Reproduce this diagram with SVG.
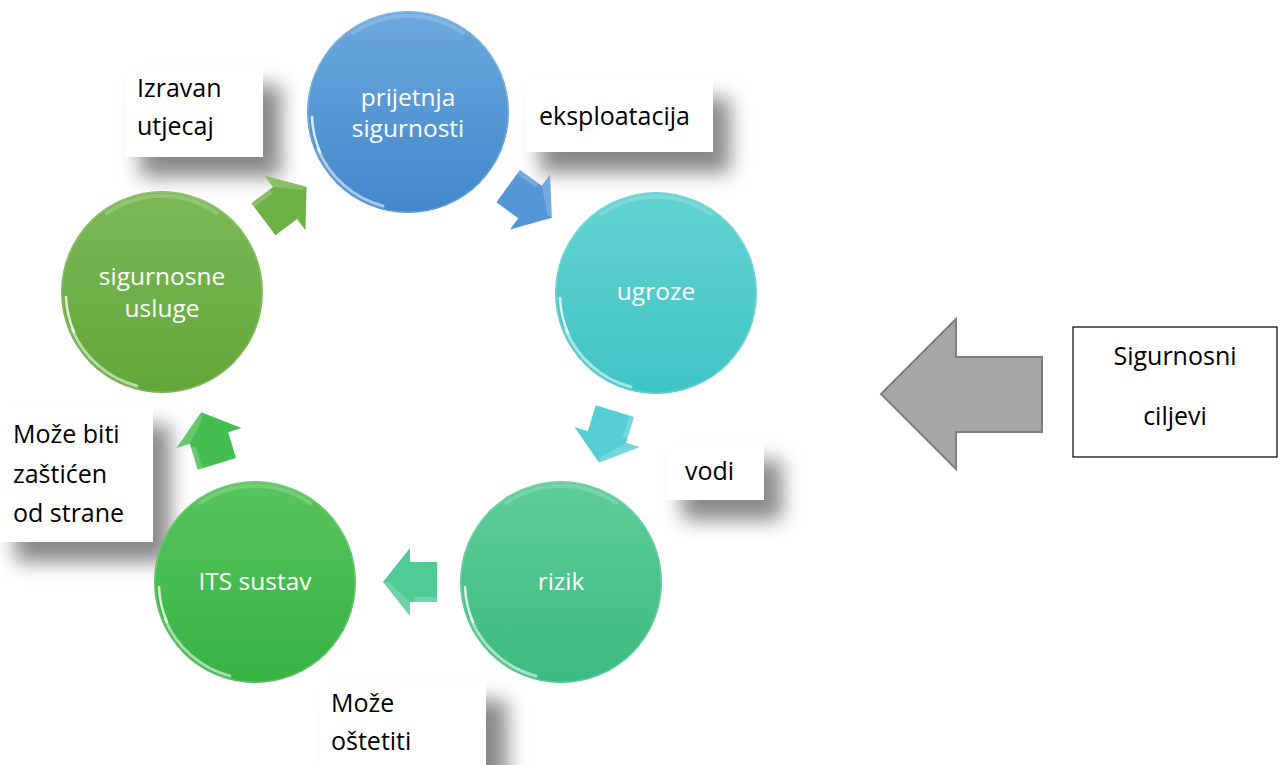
<svg xmlns="http://www.w3.org/2000/svg" width="1279" height="765" viewBox="0 0 1279 765">
<style>
.ctext{font-family:"Open Sans","Liberation Sans",sans-serif;font-size:24.5px;fill:#ffffff;text-anchor:middle}
.ltext{font-family:"Open Sans","Liberation Sans",sans-serif;font-size:25px;fill:#000000}
.shadow{fill:#888888;filter:url(#blur)}
.box{fill:#ffffff}
.rimlo{fill:none;stroke:#ffffff;stroke-width:3;stroke-opacity:0.55;stroke-linecap:round}
.rimhi{fill:none;stroke:#ffffff;stroke-width:2.5;stroke-opacity:0.8;stroke-linecap:round}
.rimtop{fill:none;stroke:#ffffff;stroke-width:4;stroke-opacity:0.18;stroke-linecap:round}
.edge{fill:none;stroke:#ffffff;stroke-width:1;stroke-opacity:0.2}
.bevel{fill:#ffffff;fill-opacity:0.18}
</style>
<defs>
<filter id="blur" x="-50%" y="-50%" width="200%" height="200%"><feGaussianBlur stdDeviation="10"/></filter>
<linearGradient id="gBlue" x1="0" y1="0" x2="0" y2="1"><stop offset="0" stop-color="#6CA8DE"/><stop offset="1" stop-color="#4188CC"/></linearGradient>
<linearGradient id="gCyan" x1="0" y1="0" x2="0" y2="1"><stop offset="0" stop-color="#63D3D2"/><stop offset="1" stop-color="#40C3C5"/></linearGradient>
<linearGradient id="gTeal" x1="0" y1="0" x2="0" y2="1"><stop offset="0" stop-color="#5DCC99"/><stop offset="1" stop-color="#3CBB80"/></linearGradient>
<linearGradient id="gGreen" x1="0" y1="0" x2="0" y2="1"><stop offset="0" stop-color="#58C45D"/><stop offset="1" stop-color="#37B343"/></linearGradient>
<linearGradient id="gOlive" x1="0" y1="0" x2="0" y2="1"><stop offset="0" stop-color="#7BB857"/><stop offset="1" stop-color="#64A739"/></linearGradient>
<polygon id="arr" points="-27,-20 0,-20 0,-34 27,0 0,34 0,20 -27,20"/>
<polygon id="arrbevel" points="-27,-20 0,-20 0,-34 27,0 21,0 -4,-24 -4,-15 -27,-15"/>
<g id="gloss">
<circle r="100" class="edge"/>
<path class="rimlo" d="M -25 94 A 97 97 0 0 1 -90 37"/>
<path class="rimhi" d="M -88 40 A 97 97 0 0 1 -96 5"/>
<path class="rimtop" d="M -55 -79 A 96 96 0 0 1 55 -79"/>
</g>
</defs>
<rect width="1279" height="765" fill="#ffffff"/>

<!-- label shadows -->
<g id="shadows">
<rect class="shadow" x="140" y="85" width="141" height="92"/>
<rect class="shadow" x="540" y="98" width="190" height="75"/>
<rect class="shadow" x="682" y="460" width="100" height="60"/>
<rect class="shadow" x="15" y="425" width="155" height="137"/>
<rect class="shadow" x="337" y="700" width="170" height="90"/>
</g>

<!-- label boxes -->
<g id="label-izravan">
<rect class="box" x="125" y="68" width="138" height="89"/>
<text class="ltext" x="137" y="97">Izravan</text>
<text class="ltext" x="137" y="135">utjecaj</text>
</g>
<g id="label-eksploatacija">
<rect class="box" x="525" y="80" width="188" height="72"/>
<text class="ltext" x="539" y="125">eksploatacija</text>
</g>
<g id="label-vodi">
<rect class="box" x="667" y="442" width="97" height="58"/>
<text class="ltext" x="685" y="480">vodi</text>
</g>
<g id="label-zasticen">
<rect class="box" x="0" y="405" width="153" height="137"/>
<text class="ltext" x="13" y="443">Može biti</text>
<text class="ltext" x="13" y="483">zaštićen</text>
<text class="ltext" x="13" y="522">od strane</text>
</g>
<g id="label-ostetiti">
<rect class="box" x="320" y="682" width="166" height="83"/>
<text class="ltext" x="331" y="712">Može</text>
<text class="ltext" x="331" y="750">oštetiti</text>
</g>

<!-- cycle connectors -->
<g id="connectors">
<g transform="translate(530,202) rotate(36)"><use href="#arr" fill="#5596D6"/><use href="#arrbevel" class="bevel"/></g>
<g transform="translate(607,437) rotate(107)"><use href="#arr" fill="#55CFD3"/><use href="#arrbevel" class="bevel"/></g>
<g transform="translate(410,582) rotate(180)"><use href="#arr" fill="#4FCB95"/><use href="#arrbevel" class="bevel"/></g>
<g transform="translate(209,438) rotate(-107)"><use href="#arr" fill="#45BE50"/><use href="#arrbevel" class="bevel"/></g>
<g transform="translate(285,203) rotate(-37)"><use href="#arr" fill="#6DB045"/><use href="#arrbevel" class="bevel"/></g>
<polygon points="881,394 956,319 956,357 1042,357 1042,432 956,432 956,469" fill="#A6A6A6" stroke="#7F7F7F" stroke-width="2"/>
</g>

<!-- nodes -->
<g id="node-prijetnja" transform="translate(408,112)">
<circle r="101" fill="url(#gBlue)"/>
<use href="#gloss"/>
<text class="ctext" x="0" y="-6">prijetnja</text>
<text class="ctext" x="0" y="25">sigurnosti</text>
</g>
<g id="node-ugroze" transform="translate(656,293)">
<circle r="101" fill="url(#gCyan)"/>
<use href="#gloss"/>
<text class="ctext" x="0" y="7">ugroze</text>
</g>
<g id="node-rizik" transform="translate(561,582)">
<circle r="101" fill="url(#gTeal)"/>
<use href="#gloss"/>
<text class="ctext" x="0" y="8">rizik</text>
</g>
<g id="node-its" transform="translate(255,582)">
<circle r="101" fill="url(#gGreen)"/>
<use href="#gloss"/>
<text class="ctext" x="0" y="8">ITS sustav</text>
</g>
<g id="node-usluge" transform="translate(162,292)">
<circle r="101" fill="url(#gOlive)"/>
<use href="#gloss"/>
<text class="ctext" x="0" y="-7">sigurnosne</text>
<text class="ctext" x="0" y="25">usluge</text>
</g>

<g id="node-ciljevi">
<rect x="1073" y="327" width="204" height="130" fill="#ffffff" stroke="#000000" stroke-width="1.2"/>
<text class="ltext" x="1175" y="365" text-anchor="middle">Sigurnosni</text>
<text class="ltext" x="1175" y="425" text-anchor="middle">ciljevi</text>
</g>
</svg>
